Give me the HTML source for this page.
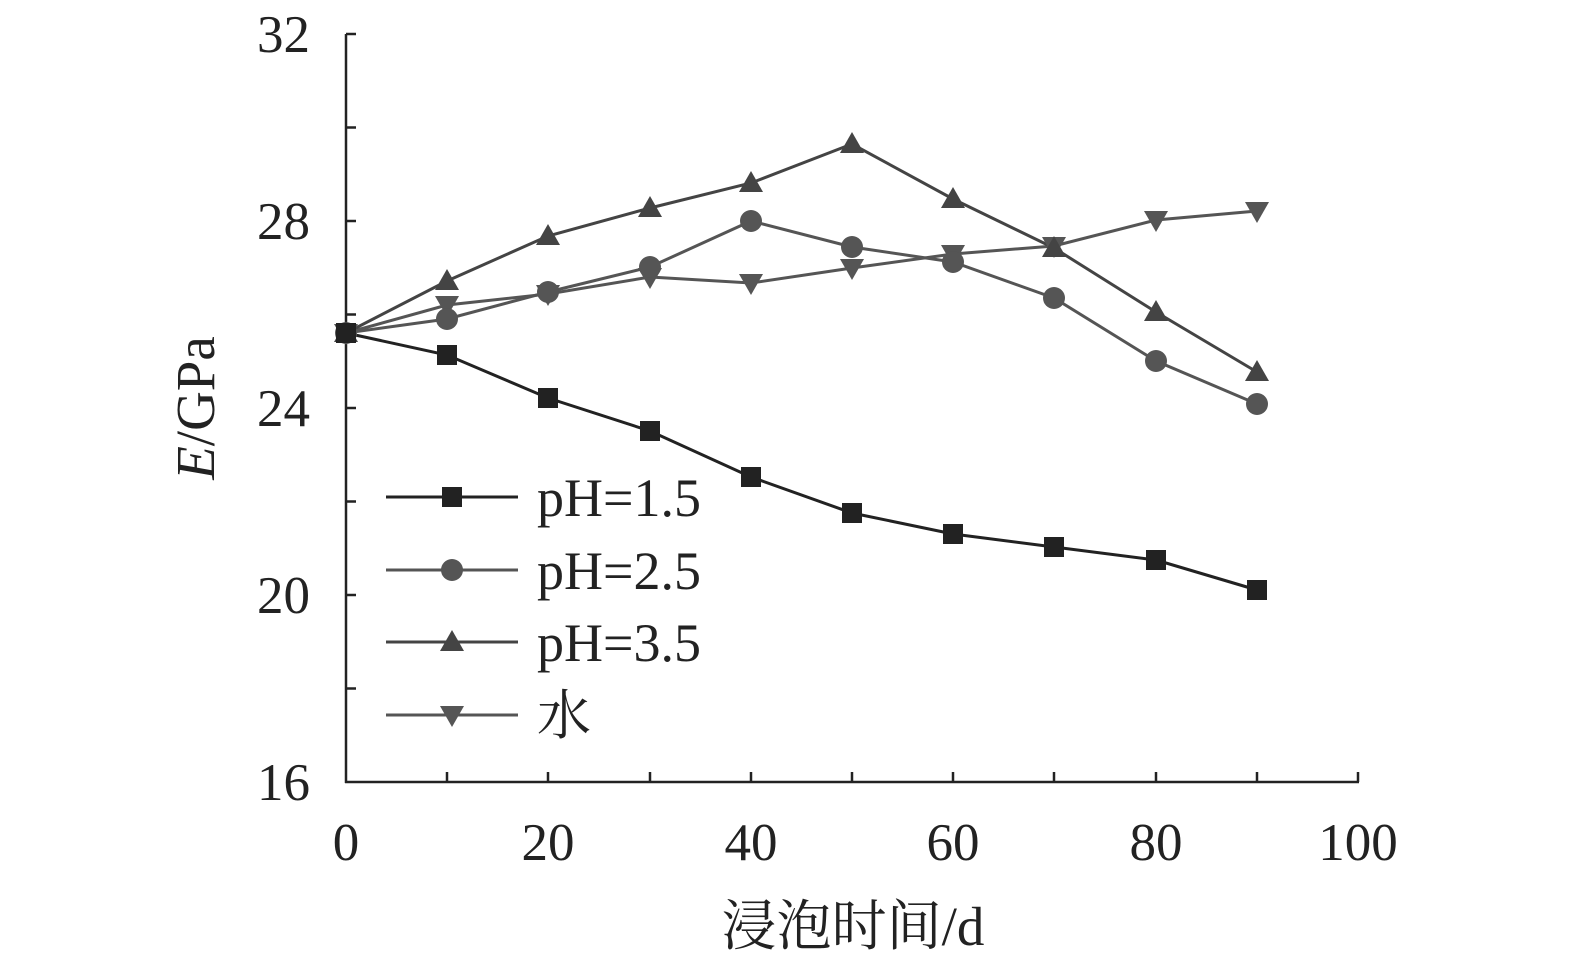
<!DOCTYPE html>
<html><head><meta charset="utf-8"><style>body{margin:0;background:#fff}</style></head><body>
<svg width="1575" height="969" xmlns="http://www.w3.org/2000/svg" font-family="Liberation Serif, Noto Serif CJK SC, serif">
<rect width="1575" height="969" fill="#fff"/>
<g stroke="#222" stroke-width="2.5" fill="none">
<line x1="346" y1="34" x2="346" y2="783"/>
<line x1="345" y1="782" x2="1359" y2="782"/>
<path d="M346 34h10M346 127.5h10M346 221h10M346 314.5h10M346 408h10M346 501.5h10M346 595h10M346 688.5h10"/>
<path d="M447 782v-10M548 782v-10M650 782v-10M751 782v-10M852 782v-10M953 782v-10M1054 782v-10M1156 782v-10M1257 782v-10M1358 782v-10"/>
</g>
<g font-size="53" fill="#222" text-anchor="end">
<text x="310" y="52">32</text><text x="310" y="239">28</text><text x="310" y="426">24</text><text x="310" y="613">20</text><text x="310" y="800">16</text>
</g>
<g font-size="53" fill="#222" text-anchor="middle">
<text x="346" y="860">0</text><text x="548" y="860">20</text><text x="751" y="860">40</text><text x="953" y="860">60</text><text x="1156" y="860">80</text><text x="1358" y="860">100</text>
<text x="853" y="945" font-size="55">浸泡时间/d</text>
</g>
<text transform="translate(214 408) rotate(-90)" font-size="55" fill="#222" text-anchor="middle"><tspan font-style="italic">E</tspan>/GPa</text>
<defs>
<rect id="sq" x="-10" y="-10" width="20" height="20" fill="#222"/>
<circle id="ci" r="11" fill="#555"/>
<path id="tu" d="M0 -12L12 9H-12Z" fill="#444"/>
<path id="td" d="M0 12L12 -9H-12Z" fill="#555"/>
</defs>
<g fill="none" stroke-width="3">
<polyline stroke="#555" points="346,333 447,305 548,294 650,277 751,283 852,268 953,254 1054,246 1156,220 1257,211"/>
<polyline stroke="#555" points="346,333 447,319 548,292 650,267 751,221 852,247 953,262 1054,298 1156,361 1257,404"/>
<polyline stroke="#444" points="346,333 447,281 548,236 650,208 751,183 852,144 953,199 1054,248 1156,312 1257,372"/>
<polyline stroke="#222" points="346,333 447,355 548,398 650,431 751,477 852,513 953,534 1054,547 1156,560 1257,590"/>
</g>
<g>
<use href="#td" x="346" y="333"/><use href="#td" x="447" y="305"/><use href="#td" x="548" y="294"/><use href="#td" x="650" y="277"/><use href="#td" x="751" y="283"/><use href="#td" x="852" y="268"/><use href="#td" x="953" y="254"/><use href="#td" x="1054" y="246"/><use href="#td" x="1156" y="220"/><use href="#td" x="1257" y="211"/>
<use href="#ci" x="346" y="333"/><use href="#ci" x="447" y="319"/><use href="#ci" x="548" y="292"/><use href="#ci" x="650" y="267"/><use href="#ci" x="751" y="221"/><use href="#ci" x="852" y="247"/><use href="#ci" x="953" y="262"/><use href="#ci" x="1054" y="298"/><use href="#ci" x="1156" y="361"/><use href="#ci" x="1257" y="404"/>
<use href="#tu" x="346" y="333"/><use href="#tu" x="447" y="281"/><use href="#tu" x="548" y="236"/><use href="#tu" x="650" y="208"/><use href="#tu" x="751" y="183"/><use href="#tu" x="852" y="144"/><use href="#tu" x="953" y="199"/><use href="#tu" x="1054" y="248"/><use href="#tu" x="1156" y="312"/><use href="#tu" x="1257" y="372"/>
<use href="#sq" x="346" y="333"/><use href="#sq" x="447" y="355"/><use href="#sq" x="548" y="398"/><use href="#sq" x="650" y="431"/><use href="#sq" x="751" y="477"/><use href="#sq" x="852" y="513"/><use href="#sq" x="953" y="534"/><use href="#sq" x="1054" y="547"/><use href="#sq" x="1156" y="560"/><use href="#sq" x="1257" y="590"/>
</g>
<g stroke-width="3">
<line x1="386" y1="497" x2="518" y2="497" stroke="#222"/><use href="#sq" x="452" y="497"/>
<line x1="386" y1="570" x2="518" y2="570" stroke="#555"/><use href="#ci" x="452" y="570"/>
<line x1="386" y1="642" x2="518" y2="642" stroke="#444"/><use href="#tu" x="452" y="642"/>
<line x1="386" y1="715" x2="518" y2="715" stroke="#555"/><use href="#td" x="452" y="715"/>
</g>
<g font-size="54" fill="#222">
<text x="537" y="516">pH=1.5</text><text x="537" y="589">pH=2.5</text><text x="537" y="661">pH=3.5</text><text x="537" y="734">水</text>
</g>
</svg>
</body></html>
